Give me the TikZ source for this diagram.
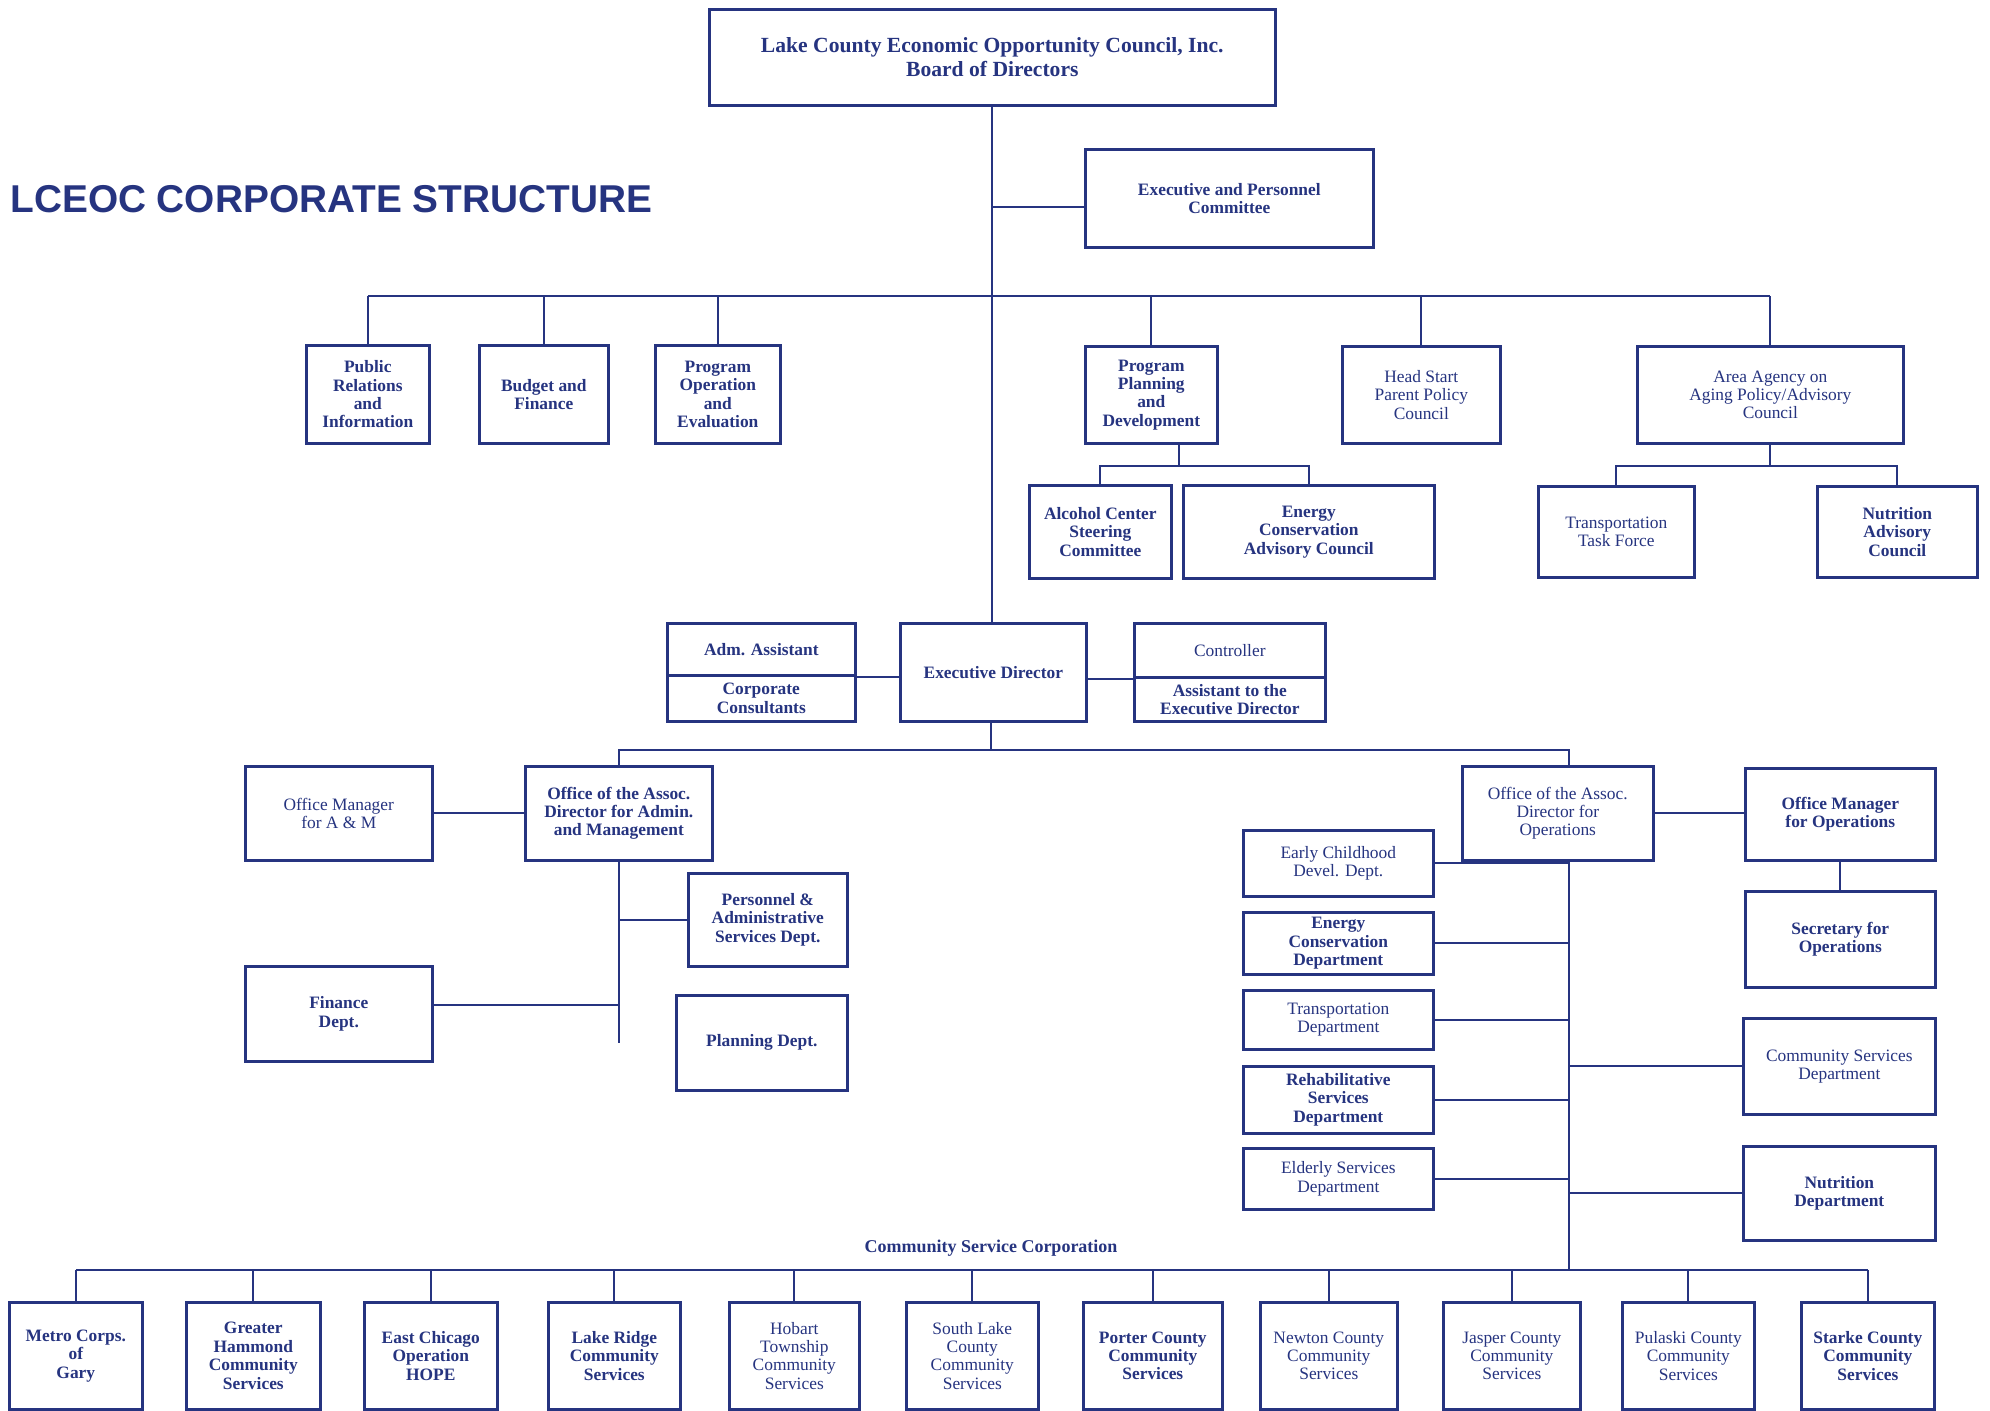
\documentclass[tikz,border=0pt]{standalone}
\usepackage{fontspec}
\setmainfont{Liberation Serif}
\newfontfamily\headfont{Liberation Sans}
\usetikzlibrary{calc}
\definecolor{lceoc}{RGB}{38,52,128}

\begin{document}
\begin{tikzpicture}[x=0.5pt,y=0.5pt,yscale=-1,xscale=1,
  orgbox/.style={draw=lceoc, line width=1.3pt, text=lceoc, align=center, inner sep=1pt, anchor=north west, font=\fontsize{8.7}{9.2}\selectfont\bfseries},
  orglight/.style={orgbox, font=\fontsize{8.7}{9.2}\selectfont},
  link/.style={draw=lceoc, line width=1.1pt}]
\useasboundingbox[fill=white] (0,0) rectangle (1990,1411);

% Text Node
\node[anchor=west, inner sep=0pt, text=lceoc, font=\headfont\bfseries\fontsize{19.4}{22}\selectfont] (title) at (10,199) {LCEOC CORPORATE STRUCTURE};

%Board and committee
\node[orgbox, minimum width=283pt, minimum height=48pt, font=\fontsize{10.8}{11.8}\selectfont\bfseries] (board) at (708,8) {Lake County Economic Opportunity Council, Inc.\\Board of Directors};
\node[orgbox, minimum width=144pt, minimum height=49pt] (execpers) at (1084,148) {Executive and Personnel\\Committee};

%Top row
\node[orgbox, minimum width=61.5pt, minimum height=49pt] (pr) at (305,344) {Public\\Relations\\and\\Information};
\node[orgbox, minimum width=64.5pt, minimum height=49pt] (budget) at (478,344) {Budget and\\Finance};
\node[orgbox, minimum width=62.5pt, minimum height=49pt] (progop) at (654,344) {Program\\Operation\\and\\Evaluation};
\node[orgbox, minimum width=66pt, minimum height=48.5pt] (progplan) at (1084,345) {Program\\Planning\\and\\Development};
\node[orglight, minimum width=79pt, minimum height=48.5pt] (headstart) at (1341,345) {Head Start\\Parent Policy\\Council};
\node[orglight, minimum width=133pt, minimum height=48.5pt] (aging) at (1636,345) {Area Agency on\\Aging Policy/Advisory\\Council};

%Second row
\node[orgbox, minimum width=71pt, minimum height=46.5pt] (alcohol) at (1028,484) {Alcohol Center\\Steering\\Committee};
\node[orgbox, minimum width=125.5pt, minimum height=46.5pt] (energyadv) at (1182,484) {Energy\\Conservation\\Advisory Council};
\node[orglight, minimum width=78pt, minimum height=45.5pt] (transtask) at (1537,485) {Transportation\\Task Force};
\node[orgbox, minimum width=80pt, minimum height=45.5pt] (nutradv) at (1816,485) {Nutrition\\Advisory\\Council};

%Executive director row
\node[orgbox, minimum width=94pt, minimum height=26pt] (admasst) at (666,622) {Adm. Assistant};
\node[orgbox, minimum width=94pt, minimum height=23pt] (corpcons) at (666,674) {Corporate\\Consultants};
\node[orgbox, minimum width=93pt, minimum height=49pt] (execdir) at (899,622) {Executive Director};
\node[orglight, minimum width=95.5pt, minimum height=27pt] (controller) at (1133,622) {Controller};
\node[orgbox, minimum width=95.5pt, minimum height=22pt] (asstexec) at (1133,676) {Assistant to the\\Executive Director};

%Admin and management
\node[orglight, minimum width=93.5pt, minimum height=47pt] (omam) at (244,765) {Office Manager\\for A \& M};
\node[orgbox, minimum width=93.5pt, minimum height=47pt] (adam) at (524,765) {Office of the Assoc.\\Director for Admin.\\and Management};
\node[orgbox, minimum width=79.5pt, minimum height=46.5pt] (persadm) at (687,872) {Personnel \&\\Administrative\\Services Dept.};
\node[orgbox, minimum width=93.5pt, minimum height=47.5pt] (finance) at (244,965) {Finance\\Dept.};
\node[orgbox, minimum width=85.5pt, minimum height=47.5pt] (planning) at (675,994) {Planning Dept.};

%Operations
\node[orglight, minimum width=95.5pt, minimum height=47pt] (ado) at (1461,765) {Office of the Assoc.\\Director for\\Operations};
\node[orgbox, minimum width=95pt, minimum height=46pt] (omops) at (1744,767) {Office Manager\\for Operations};
\node[orgbox, minimum width=95pt, minimum height=48pt] (secops) at (1744,890) {Secretary for\\Operations};
\node[orglight, minimum width=95pt, minimum height=33pt] (early) at (1242,829) {Early Childhood\\Devel. Dept.};
\node[orgbox, minimum width=95pt, minimum height=31pt] (energydept) at (1242,911) {Energy\\Conservation\\Department};
\node[orglight, minimum width=95pt, minimum height=29.5pt] (transdept) at (1242,989) {Transportation\\Department};
\node[orgbox, minimum width=95pt, minimum height=33.5pt] (rehab) at (1242,1065) {Rehabilitative\\Services\\Department};
\node[orglight, minimum width=95pt, minimum height=30.5pt] (elderly) at (1242,1147) {Elderly Services\\Department};
\node[orglight, minimum width=96pt, minimum height=48pt] (commserv) at (1742,1017) {Community Services\\Department};
\node[orgbox, minimum width=96pt, minimum height=47pt] (nutrdept) at (1742,1145) {Nutrition\\Department};

%Community service corporation
\node[inner sep=0pt, text=lceoc, font=\fontsize{9}{10}\selectfont\bfseries] (csc) at (991,1248) {Community Service Corporation};
\node[orgbox, minimum width=66.5pt, minimum height=53.5pt] (metro) at (8,1301) {Metro Corps.\\of\\Gary};
\node[orgbox, minimum width=67pt, minimum height=53.5pt] (hammond) at (185,1301) {Greater\\Hammond\\Community\\Services};
\node[orgbox, minimum width=66.5pt, minimum height=53.5pt] (eastchi) at (363,1301) {East Chicago\\Operation\\HOPE};
\node[orgbox, minimum width=66pt, minimum height=53.5pt] (lakeridge) at (547,1301) {Lake Ridge\\Community\\Services};
\node[orglight, minimum width=65pt, minimum height=53.5pt] (hobart) at (728,1301) {Hobart\\Township\\Community\\Services};
\node[orglight, minimum width=66pt, minimum height=53.5pt] (southlake) at (905,1301) {South Lake\\County\\Community\\Services};
\node[orgbox, minimum width=69.5pt, minimum height=53.5pt] (porter) at (1082,1301) {Porter County\\Community\\Services};
\node[orglight, minimum width=68.5pt, minimum height=53.5pt] (newton) at (1259,1301) {Newton County\\Community\\Services};
\node[orglight, minimum width=68.5pt, minimum height=53.5pt] (jasper) at (1442,1301) {Jasper County\\Community\\Services};
\node[orglight, minimum width=66pt, minimum height=53.5pt] (pulaski) at (1621,1301) {Pulaski County\\Community\\Services};
\node[orgbox, minimum width=66.5pt, minimum height=53.5pt] (starke) at (1800,1301) {Starke County\\Community\\Services};

%Bus coordinates
\coordinate (topbus) at (991,296);
\coordinate (ppbus) at (1179,466);
\coordinate (midbus) at (991,750);
\coordinate (optrunk) at (1569,750);
\coordinate (botbus) at (991,1270);

%Straight Lines
\draw[link] (board.south) -- (board.south |- execdir.north);
\draw[link] (board.south |- execpers.west) ++(0,9) -- ($(execpers.west)+(0,9)$);
\draw[link] (pr.north |- topbus) -- (aging.north |- topbus);
\foreach \n in {pr,budget,progop,progplan,headstart,aging}
  \draw[link] (\n.north) -- (\n.north |- topbus);
\draw[link] (progplan.south -| ppbus) -- (ppbus);
\draw[link] (alcohol.north) |- (energyadv.north |- ppbus) -- (energyadv.north);
\draw[link] (aging.south) -- (aging.south |- ppbus);
\draw[link] (transtask.north) |- (nutradv.north |- ppbus) -- (nutradv.north);

\draw[link] (admasst.south east) -- (admasst.south east -| execdir.west);
\draw[link] (execdir.east |- controller.south) -- (controller.south west);

\draw[link] (execdir.south -| midbus) -- (midbus);
\draw[link] (adam.north) |- (optrunk) -- (optrunk |- ado.north);
\draw[link] (omam.east) -- (adam.west);
\draw[link] (adam.south) -- (adam.south |- planning.west);
\draw[link] (adam.south |- persadm.west) -- (persadm.west);
\draw[link] ($(finance.east)+(0,-9)$) -- ($(finance.east -| adam.south)+(0,-9)$);

\draw[link] (optrunk |- ado.south) -- (optrunk |- botbus);
\draw[link] (ado.east) -- (ado.east -| omops.west);
\draw[link] (omops.south) -- (secops.north);
\foreach \n in {early,energydept,transdept,rehab,elderly}
  \draw[link] (\n.east) -- (\n.east -| optrunk);
\foreach \n in {commserv,nutrdept}
  \draw[link] (\n.west) -- (\n.west -| optrunk);

\draw[link] (metro.north |- botbus) -- (starke.north |- botbus);
\foreach \n in {metro,hammond,eastchi,lakeridge,hobart,southlake,porter,newton,jasper,pulaski,starke}
  \draw[link] (\n.north) -- (\n.north |- botbus);

\end{tikzpicture}
\end{document}
